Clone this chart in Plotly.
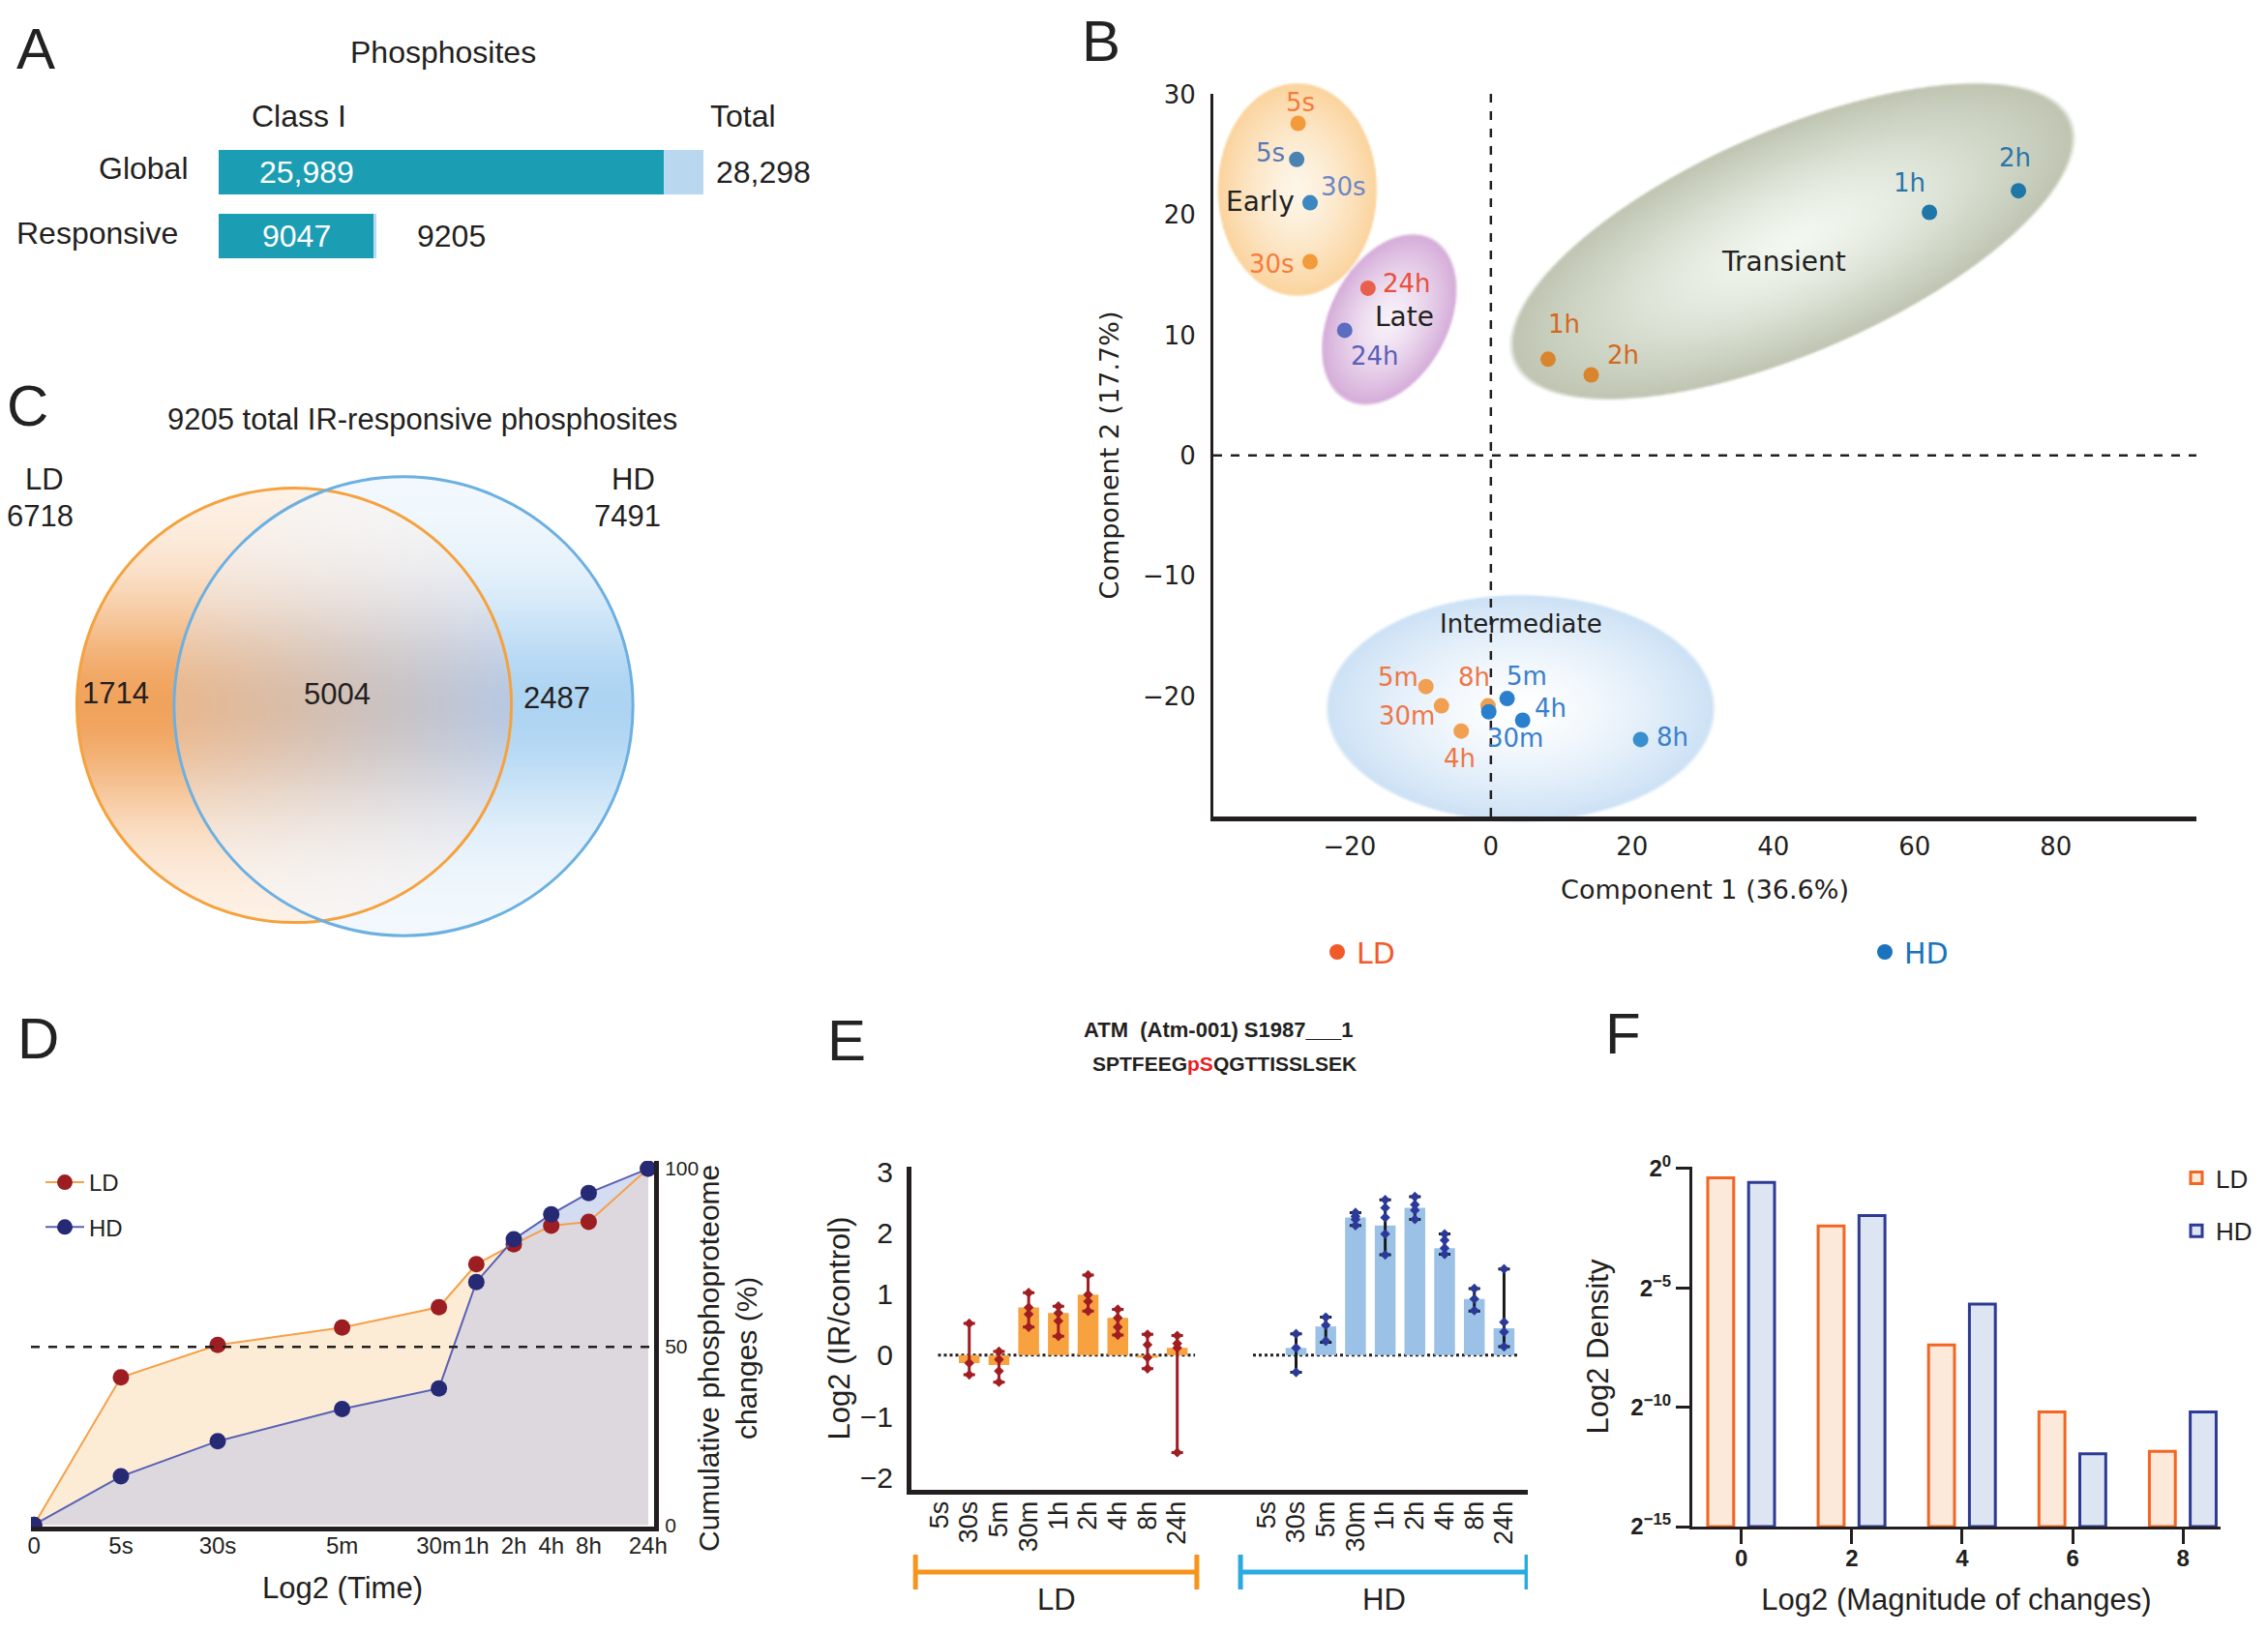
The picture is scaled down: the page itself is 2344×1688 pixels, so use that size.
import base64
import struct
import zlib

import numpy as np
import plotly.graph_objects as go

W, H = 2344, 1688
FONT = "Liberation Sans, Arial, Helvetica, sans-serif"
WIDE = "DejaVu Sans, Verdana, sans-serif"
INK = "#231f20"

# ======================= DATA =======================
# Panel A: phosphosite counts
A_ROWS = ["Global", "Responsive"]
A_CLASS1 = [25989, 9047]
A_TOTAL = [28298, 9205]
A_CLASS1_TEXT = ["25,989", "9047"]
A_TOTAL_TEXT = ["28,298", "9205"]

# Panel B: PCA scores
B_LABELS = ["5s", "30s", "5m", "30m", "1h", "2h", "4h", "8h", "24h"]
B_LD_PC1 = [-27.3, -25.6, -9.2, -7.0, 8.1, 14.2, -4.2, -0.4, -17.4]
B_LD_PC2 = [27.6, 16.1, -19.2, -20.8, 8.0, 6.7, -22.9, -20.8, 13.9]
B_HD_PC1 = [-27.5, -25.6, 2.3, -0.3, 62.1, 74.7, 4.5, 21.2, -20.7]
B_HD_PC2 = [24.6, 21.0, -20.2, -21.3, 20.2, 22.0, -22.0, -23.6, 10.4]
B_GROUPS = ["Early", "Late", "Transient", "Intermediate"]
B_GROUP_CENTER_PC1 = [-27.4, -14.4, 42.7, 4.2]
B_GROUP_CENTER_PC2 = [22.1, 11.3, 17.8, -21.0]

# Panel C: Venn counts
C_TOTAL = 9205
C_LD_TOTAL, C_HD_TOTAL = 6718, 7491
C_LD_ONLY, C_BOTH, C_HD_ONLY = 1714, 5004, 2487

# Panel D: cumulative changes (%)
D_TIME_LABELS = ["0", "5s", "30s", "5m", "30m", "1h", "2h", "4h", "8h", "24h"]
D_TIME_SECONDS = [1, 5, 30, 300, 1800, 3600, 7200, 14400, 28800, 86400]
D_LD = [0, 41.4, 50.5, 55.4, 61.1, 73.2, 78.8, 84.0, 85.1, 100]
D_HD = [0, 13.6, 23.5, 32.5, 38.3, 68.2, 80.2, 87.2, 93.2, 100]

# Panel E: ATM S1987 log2(IR/control)
E_TIMES = ["5s", "30s", "5m", "30m", "1h", "2h", "4h", "8h", "24h"]
E_LD_MID = [None, -0.13, -0.16, 0.78, 0.69, 0.99, 0.61, -0.04, 0.12]
E_LD_HIGH = [None, 0.52, 0.06, 1.02, 0.80, 1.31, 0.75, 0.34, 0.32]
E_LD_LOW = [None, -0.32, -0.44, 0.46, 0.31, 0.72, 0.33, -0.22, -1.59]
E_LD_REPS = [[], [0.52, -0.13, -0.32], [0.06, -0.07, -0.26, -0.44], [1.02, 0.78, 0.67, 0.46],
             [0.80, 0.69, 0.56, 0.31], [1.31, 0.99, 0.88, 0.72], [0.75, 0.61, 0.46, 0.33],
             [0.34, 0.17, -0.04, -0.22], [0.32, 0.19, 0.12, -1.59]]
E_HD_MID = [None, 0.12, 0.47, 2.25, 2.12, 2.41, 1.75, 0.92, 0.44]
E_HD_HIGH = [None, 0.35, 0.62, 2.33, 2.54, 2.59, 1.98, 1.09, 1.41]
E_HD_LOW = [None, -0.28, 0.21, 2.12, 1.64, 2.22, 1.65, 0.72, 0.14]
E_HD_REPS = [[], [0.35, 0.12, -0.28], [0.62, 0.49, 0.23], [2.33, 2.27, 2.22, 2.12],
             [2.54, 2.41, 2.25, 1.98, 1.64], [2.59, 2.46, 2.37, 2.22], [1.98, 1.88, 1.75, 1.65],
             [1.09, 0.92, 0.73], [1.41, 0.54, 0.38, 0.14]]

# Panel F: log2 density of change magnitudes
F_BINS = [0, 2, 4, 6, 8]
F_LD_LOG2 = [-0.39, -2.4, -7.39, -10.2, -11.85]
F_HD_LOG2 = [-0.58, -1.97, -5.68, -11.95, -10.2]
F_FLOOR = -15

# ======================= HELPERS / STYLE =======================
def PX(x):
    return x / W


def PY(y):
    return 1 - y / H


def dom_x(a, b):
    return [PX(a), PX(b)]


def dom_y(top, bottom):
    return [PY(bottom), PY(top)]


def png_uri(rgba):
    """Encode an HxWx4 uint8 array as a PNG data URI (filter 'Up')."""
    rgba = np.ascontiguousarray(np.clip(np.round(rgba), 0, 255), dtype=np.uint8)
    h, w, _ = rgba.shape
    prev = np.vstack([np.zeros((1, w, 4), np.uint8), rgba[:-1]])
    filt = ((rgba.astype(np.int16) - prev.astype(np.int16)) % 256).astype(np.uint8).reshape(h, w * 4)
    raw = np.hstack([np.full((h, 1), 2, np.uint8), filt]).tobytes()

    def chunk(tag, data):
        return struct.pack(">I", len(data)) + tag + data + struct.pack(">I", zlib.crc32(tag + data) & 0xFFFFFFFF)

    png = (b"\x89PNG\r\n\x1a\n" + chunk(b"IHDR", struct.pack(">IIBBBBB", w, h, 8, 6, 0, 0, 0)) +
           chunk(b"IDAT", zlib.compress(raw, 9)) + chunk(b"IEND", b""))
    return "data:image/png;base64," + base64.b64encode(png).decode()


fig = go.Figure()
shapes, ann, images = [], [], []


def text(x, y, s, size=28, color=INK, xanchor="center", yanchor="middle", xref="paper", yref="paper",
         xshift=0, yshift=0, bold=False, family=FONT, angle=0):
    ann.append(dict(x=x, y=y, xref=xref, yref=yref, text=("<b>%s</b>" % s) if bold else s,
                    showarrow=False, xanchor=xanchor, yanchor=yanchor, xshift=xshift, yshift=yshift,
                    textangle=angle, font=dict(family=family, size=size, color=color)))


# panel letters
for letter, (lx, ly) in {"A": (37, 50), "B": (1138, 43), "C": (28, 420), "D": (39, 1073),
                         "E": (875, 1075), "F": (1677, 1068)}.items():
    text(PX(lx), PY(ly), letter, size=60, color="#222")

# ======================= PANEL A =======================
TEAL, LIGHT = "#1b9db3", "#b9d8ef"
fig.add_trace(go.Bar(y=A_ROWS, x=A_CLASS1, base=0, orientation="h", marker=dict(color=TEAL, line=dict(width=0)),
                     width=0.7, xaxis="x", yaxis="y", showlegend=False, hoverinfo="skip"))
fig.add_trace(go.Bar(y=A_ROWS, x=[t - c for t, c in zip(A_TOTAL, A_CLASS1)], base=A_CLASS1, orientation="h",
                     marker=dict(color=LIGHT, line=dict(width=0)), width=0.7, xaxis="x", yaxis="y",
                     showlegend=False, hoverinfo="skip"))
text(PX(458), PY(54), "Phosphosites", size=32)
text(PX(309), PY(120), "Class I", size=32)
text(PX(768), PY(120), "Total", size=32)
text(0, A_ROWS[0], A_CLASS1_TEXT[0], xref="x", yref="y", xanchor="left", xshift=40, size=32, color="white")
text(A_CLASS1[1] / 2, A_ROWS[1], A_CLASS1_TEXT[1], xref="x", yref="y", size=32, color="white")
text(A_TOTAL[0], A_ROWS[0], A_TOTAL_TEXT[0], xref="x", yref="y", xanchor="left", xshift=11, size=32)
text(A_TOTAL[1], A_ROWS[1], A_TOTAL_TEXT[1], xref="x", yref="y", xanchor="left", xshift=40, size=32)
text(PX(197), PY(174), A_ROWS[0], xanchor="right", size=32)
text(PX(186), PY(241), A_ROWS[1], xanchor="right", size=32)

# ======================= PANEL B =======================
B_DOM_X, B_DOM_Y = (1254, 2270), (97, 844)
B_RX, B_RY = (-39.3, 99.9), (-30.0, 30.05)
kx = (B_DOM_X[1] - B_DOM_X[0]) / (B_RX[1] - B_RX[0])
ky = (B_DOM_Y[1] - B_DOM_Y[0]) / (B_RY[1] - B_RY[0])

# soft gradient ellipses (pixel semi-axes, rotation, edge / centre colours) as a background image
B_ELL = [dict(a=83, b=111, ang=0, outer=(251, 211, 156), inner=(253, 246, 232)),
         dict(a=96, b=62, ang=62, outer=(212, 170, 216), inner=(248, 241, 249)),
         dict(a=316, b=116, ang=23.5, outer=(190, 196, 176), inner=(242, 248, 240)),
         dict(a=202, b=118, ang=0, outer=(204, 225, 245), inner=(255, 255, 255))]
BI_X0, BI_X1, BI_Y0, BI_Y1, BI_S = 1240, 2300, 60, 880, 0.5
gx, gy = np.meshgrid(BI_X0 + (np.arange(int((BI_X1 - BI_X0) * BI_S)) + 0.5) / BI_S,
                     BI_Y0 + (np.arange(int((BI_Y1 - BI_Y0) * BI_S)) + 0.5) / BI_S)
b_rgb = np.full(gx.shape + (3,), 255.0)
b_a = np.zeros(gx.shape)
for cx, cy, e in zip(B_GROUP_CENTER_PC1, B_GROUP_CENTER_PC2, B_ELL):
    cxp = B_DOM_X[0] + (cx - B_RX[0]) * kx
    cyp = B_DOM_Y[1] - (cy - B_RY[0]) * ky
    th = np.radians(e["ang"])
    dx, dy = gx - cxp, -(gy - cyp)
    u = dx * np.cos(th) + dy * np.sin(th)
    w = -dx * np.sin(th) + dy * np.cos(th)
    rho = np.sqrt((u / e["a"]) ** 2 + (w / e["b"]) ** 2)
    cov = np.clip((1 - rho) * e["b"] * BI_S / 1.2, 0, 1)
    tcol = np.clip(rho, 0, 1) ** 1.4
    col = np.array(e["inner"]) + (np.array(e["outer"]) - np.array(e["inner"])) * tcol[..., None]
    na = cov + b_a * (1 - cov)
    safe = np.where(na > 0, na, 1)
    b_rgb = (col * cov[..., None] + b_rgb * (b_a * (1 - cov))[..., None]) / safe[..., None]
    b_rgb[na == 0] = 255
    b_a = na
images.append(dict(source=png_uri(np.dstack([b_rgb, 255 * b_a])), xref="paper", yref="paper",
                   x=PX(BI_X0), y=PY(BI_Y0), sizex=(BI_X1 - BI_X0) / W, sizey=(BI_Y1 - BI_Y0) / H,
                   xanchor="left", yanchor="top", sizing="stretch", layer="below"))
shapes.append(dict(type="line", xref="x2", yref="y2 domain", x0=0, x1=0, y0=0, y1=1, layer="below",
                   line=dict(color=INK, width=2.5, dash="dash")))
shapes.append(dict(type="line", xref="x2 domain", yref="y2", x0=0, x1=1, y0=0, y1=0, layer="below",
                   line=dict(color=INK, width=2.5, dash="dash")))

B_LD_COL = ["#f39a3b", "#f39a3b", "#f0a050", "#f0a050", "#d9852e", "#d9852e", "#f0a050", "#f0a050", "#e8604c"]
B_LD_TXT = ["#f47c3c", "#f47c3c", "#ee7746", "#ee7746", "#d2691e", "#d2691e", "#ee7746", "#ee7746", "#e8503a"]
B_HD_COL = ["#4a83b2", "#3b87c2", "#2a80cc", "#2a80cc", "#1f77a8", "#1f77a8", "#2a80cc", "#3a8fd0", "#5a6dc0"]
B_HD_TXT = ["#5a7ab8", "#6c88c4", "#3a7fcc", "#3a7fcc", "#2a76a8", "#2a76a8", "#3a7fcc", "#3a7fcc", "#5a5fb8"]
# (xanchor, xshift, yshift) per label
B_LD_OFF = [("center", 2, 21), ("right", -14, -2), ("right", -6, 10), ("right", -5, -10), ("center", 17, 36),
            ("center", 33, 20), ("center", -2, -28), ("center", -14, 30), ("left", 13, 5)]
B_HD_OFF = [("right", -10, 7), ("left", 9, 17), ("center", 20, 23), ("center", 27, -27), ("center", -21, 31),
            ("center", -4, 34), ("center", 29, 12), ("left", 14, 2), ("center", 31, -27)]

fig.add_trace(go.Scatter(x=B_LD_PC1, y=B_LD_PC2, mode="markers", xaxis="x2", yaxis="y2", showlegend=False,
                         marker=dict(color=B_LD_COL, size=16, line=dict(width=0)), hoverinfo="skip"))
fig.add_trace(go.Scatter(x=B_HD_PC1, y=B_HD_PC2, mode="markers", xaxis="x2", yaxis="y2", showlegend=False,
                         marker=dict(color=B_HD_COL, size=16, line=dict(width=0)), hoverinfo="skip"))
for xs_, ys_, cols, offs in [(B_LD_PC1, B_LD_PC2, B_LD_TXT, B_LD_OFF), (B_HD_PC1, B_HD_PC2, B_HD_TXT, B_HD_OFF)]:
    for lab, px_, py_, col, (xa, xsh, ysh) in zip(B_LABELS, xs_, ys_, cols, offs):
        text(px_, py_, lab, xref="x2", yref="y2", xanchor=xa, xshift=xsh, yshift=ysh, size=26, color=col,
             family=WIDE)
B_GROUP_TXT = [(-32.7, 21.1), (-12.2, 11.5), (41.5, 16.1), (4.2, -14.0)]
B_GROUP_SIZE = [28, 28, 28, 26]
for g, (gx_, gy_), sz in zip(B_GROUPS, B_GROUP_TXT, B_GROUP_SIZE):
    text(gx_, gy_, g, xref="x2", yref="y2", size=sz, color="#222", family=WIDE)
# legend entries for B (one legend each, so they can sit far apart)
fig.add_trace(go.Scatter(x=[None], y=[None], mode="markers", xaxis="x2", yaxis="y2", legend="legend3",
                         name="<span style='color:#f15a29'>LD</span>", marker=dict(color="#f15a29", size=20)))
fig.add_trace(go.Scatter(x=[None], y=[None], mode="markers", xaxis="x2", yaxis="y2", legend="legend4",
                         name="<span style='color:#1a73bd'>HD</span>", marker=dict(color="#1a73bd", size=20)))

# ======================= PANEL C (Venn) =======================
VENN_K = 2.74
C_LD_CENTER, C_HD_CENTER = (304, 729), (417, 730)
r_ld = VENN_K * np.sqrt(C_LD_TOTAL)
r_hd = VENN_K * np.sqrt(C_HD_TOTAL)

VI_X0, VI_X1, VI_Y0, VI_Y1 = 60, 680, 470, 1000
vx, vy = np.meshgrid(np.arange(VI_X0, VI_X1) + 0.5, np.arange(VI_Y0, VI_Y1) + 0.5)
d_ld = np.hypot(vx - C_LD_CENTER[0], vy - C_LD_CENTER[1])
d_hd = np.hypot(vx - C_HD_CENTER[0], vy - C_HD_CENTER[1])
in_ld, in_hd = d_ld <= r_ld, d_hd <= r_hd
vnorm = np.abs(vy - 0.5 * (C_LD_CENTER[1] + C_HD_CENTER[1])) / (0.5 * (r_ld + r_hd))
alpha = 0.12 + 0.74 * np.exp(-(vnorm / 0.5) ** 2)
lens_l, lens_r = C_HD_CENTER[0] - r_hd, C_LD_CENTER[0] + r_ld
tl = np.clip((vx - lens_l) / (lens_r - lens_l), 0, 1)[..., None]
LD_COL, HD_COL = np.array((238, 148, 66)), np.array((160, 205, 240))
near_ld = (d_ld / r_ld) < (d_hd / r_hd)
col = np.where(near_ld[..., None], LD_COL, HD_COL).astype(float)
ov = in_ld & in_hd
col[ov] = (np.array((230, 172, 122)) * (1 - tl) + np.array((172, 192, 222)) * tl)[ov]
v_rgb = 255 * (1 - alpha[..., None]) + col * alpha[..., None]
v_a = 255 * np.clip(np.maximum(r_ld - d_ld, r_hd - d_hd) + 0.5, 0, 1)
images.append(dict(source=png_uri(np.dstack([v_rgb, v_a])), xref="paper", yref="paper", x=PX(VI_X0),
                   y=PY(VI_Y0), sizex=(VI_X1 - VI_X0) / W, sizey=(VI_Y1 - VI_Y0) / H, xanchor="left",
                   yanchor="top", sizing="stretch", layer="below"))
for c, r, lc in [(C_LD_CENTER, r_ld, "#f5a23e"), (C_HD_CENTER, r_hd, "#6cb0e2")]:
    shapes.append(dict(type="circle", xref="paper", yref="paper", x0=PX(c[0] - r), x1=PX(c[0] + r),
                       y0=PY(c[1] + r), y1=PY(c[1] - r), line=dict(color=lc, width=3), fillcolor="rgba(0,0,0,0)"))
text(PX(436), PY(433), "%d total IR-responsive phosphosites" % C_TOTAL, size=31)
text(PX(46), PY(496), "LD", size=31)
text(PX(41), PY(533), str(C_LD_TOTAL), size=31)
text(PX(654), PY(496), "HD", size=31)
text(PX(648), PY(533), str(C_HD_TOTAL), size=31)
text(PX(119), PY(716), str(C_LD_ONLY), size=31)
text(PX(348), PY(718), str(C_BOTH), size=31)
text(PX(575), PY(721), str(C_HD_ONLY), size=31)

# ======================= PANEL D =======================
lx = np.log2(D_TIME_SECONDS)
ld = np.array(D_LD, float)
hd = np.array(D_HD, float)
mx, my = [lx[0]], [min(ld[0], hd[0])]
for i in range(1, len(lx)):
    d0, d1 = ld[i - 1] - hd[i - 1], ld[i] - hd[i]
    if d0 * d1 < 0:
        t = d0 / (d0 - d1)
        mx.append(lx[i - 1] + t * (lx[i] - lx[i - 1]))
        my.append(ld[i - 1] + t * (ld[i] - ld[i - 1]))
    mx.append(lx[i])
    my.append(min(ld[i], hd[i]))
min_sec = np.power(2.0, mx)

for xv, yv, fc in [(D_TIME_SECONDS, D_LD, "#fdecd5"), (D_TIME_SECONDS, D_HD, "#d3dcf0"), (min_sec, my, "#ddd8de")]:
    fig.add_trace(go.Scatter(x=list(xv), y=list(yv), mode="lines", fill="tozeroy", fillcolor=fc,
                             line=dict(width=0), xaxis="x4", yaxis="y4", showlegend=False, hoverinfo="skip"))
shapes.append(dict(type="line", xref="x4 domain", yref="y4", x0=0, x1=1, y0=50, y1=50,
                   line=dict(color=INK, width=2.5, dash="dash")))
fig.add_trace(go.Scatter(x=D_TIME_SECONDS, y=D_LD, mode="lines+markers", name="LD", xaxis="x4", yaxis="y4",
                         legend="legend", legendgroup="ld", line=dict(color="#f5a04a", width=2),
                         marker=dict(color="#9c1d22", size=17)))
fig.add_trace(go.Scatter(x=D_TIME_SECONDS, y=D_HD, mode="lines+markers", name="HD", xaxis="x4", yaxis="y4",
                         legend="legend", legendgroup="hd", line=dict(color="#5a60b5", width=2),
                         marker=dict(color="#262a74", size=17)))
text(PX(752), PY(1404), "Cumulative phosphoproteome<br>changes (%)", size=30, angle=-90)

# ======================= PANEL E =======================
E_LD_X = list(range(len(E_TIMES)))
E_HD_X = [11 + i for i in range(len(E_TIMES))]


def err(mid, hi, lo):
    up = [None if m is None else h - m for m, h in zip(mid, hi)]
    dn = [None if m is None else m - l for m, l in zip(mid, lo)]
    return up, dn


for xs_, mid, hi, lo, reps, bar_c, err_c, dot_c in [
        (E_LD_X, E_LD_MID, E_LD_HIGH, E_LD_LOW, E_LD_REPS, "#f7a23f", "#a01d22", "#a01d22"),
        (E_HD_X, E_HD_MID, E_HD_HIGH, E_HD_LOW, E_HD_REPS, "#9bc2e6", "#1a1a1a", "#2b3a9a")]:
    up, dn = err(mid, hi, lo)
    fig.add_trace(go.Bar(x=xs_, y=mid, width=0.7, marker=dict(color=bar_c, line=dict(width=0)),
                         error_y=dict(type="data", array=up, arrayminus=dn, color=err_c, thickness=3, width=6),
                         xaxis="x5", yaxis="y5", showlegend=False, hoverinfo="skip"))
    rx = [x for x, r in zip(xs_, reps) for _ in r]
    ry = [v for r in reps for v in r]
    fig.add_trace(go.Scatter(x=rx, y=ry, mode="markers", marker=dict(color=dot_c, size=8, symbol="diamond"),
                             xaxis="x5", yaxis="y5", showlegend=False, hoverinfo="skip"))
for x0, x1 in [(E_LD_X[0] - 0.05, E_LD_X[-1] + 0.6), (E_HD_X[0] - 0.45, E_HD_X[-1] + 0.5)]:
    shapes.append(dict(type="line", xref="x5", yref="y5", x0=x0, x1=x1, y0=0, y1=0, layer="below",
                       line=dict(color=INK, width=3, dash="dot")))
for x0, x1, lc, lab in [(E_LD_X[0] - 0.81, E_LD_X[-1] + 0.66, "#f7941d", "LD"),
                        (E_HD_X[0] - 0.87, E_HD_X[-1] + 0.77, "#29abe2", "HD")]:
    shapes.append(dict(type="line", xref="x5", yref="paper", x0=x0, x1=x1, y0=PY(1625), y1=PY(1625),
                       line=dict(color=lc, width=5)))
    for xe in (x0, x1):
        shapes.append(dict(type="line", xref="x5", yref="paper", x0=xe, x1=xe, y0=PY(1643), y1=PY(1607),
                           line=dict(color=lc, width=5)))
    text((x0 + x1) / 2, PY(1653), lab, xref="x5", size=31)
text(PX(1259), PY(1064), "ATM  (Atm-001) S1987___1", size=22, bold=True)
text(PX(1265), PY(1099), "SPTFEEG<span style='color:#ee1c25'>pS</span>QGTTISSLSEK", size=21, bold=True)

# ======================= PANEL F =======================
fig.add_trace(go.Bar(x=F_BINS, y=[v - F_FLOOR for v in F_LD_LOG2], base=F_FLOOR, width=0.47, offset=-0.61,
                     name="LD", legend="legend2", legendgroup="fld", xaxis="x6", yaxis="y6", hoverinfo="skip",
                     marker=dict(color="#fde9d9", line=dict(color="#f26522", width=3))))
fig.add_trace(go.Bar(x=F_BINS, y=[v - F_FLOOR for v in F_HD_LOG2], base=F_FLOOR, width=0.47, offset=0.13,
                     name="HD", legend="legend2", legendgroup="fhd", xaxis="x6", yaxis="y6", hoverinfo="skip",
                     marker=dict(color="#dde4f2", line=dict(color="#2e3a94", width=3))))

# ======================= LAYOUT =======================
hidden = dict(visible=False, showgrid=False, zeroline=False)


def tf(s, bold=False, family=FONT):
    return dict(family=family, size=s, color=INK, weight="bold" if bold else "normal")


def leg(x, y, size, family=FONT, **kw):
    d = dict(x=PX(x), y=PY(y), xanchor="left", yanchor="top", bgcolor="rgba(0,0,0,0)",
             font=dict(family=family, size=size, color=INK))
    d.update(kw)
    return d


fig.update_layout(
    width=W, height=H, autosize=False, margin=dict(l=0, r=0, t=0, b=0, autoexpand=False),
    paper_bgcolor="white", plot_bgcolor="rgba(0,0,0,0)",
    barmode="overlay", font=dict(family=FONT, color=INK), hovermode=False,
    xaxis=dict(domain=dom_x(226, 727), range=[0, A_TOTAL[0]], anchor="y", **hidden),
    yaxis=dict(domain=dom_y(145, 277), anchor="x", categoryorder="array", categoryarray=A_ROWS[::-1],
               **hidden),
    xaxis2=dict(domain=dom_x(*B_DOM_X), range=list(B_RX), anchor="y2", showline=True, linewidth=5,
                linecolor=INK, ticks="", ticklen=0, showgrid=False, zeroline=False,
                tickvals=[-20, 0, 20, 40, 60, 80], tickfont=tf(26, family=WIDE), ticklabelstandoff=4,
                tickangle=0, title=dict(text="Component 1 (36.6%)", font=tf(27, family=WIDE), standoff=22)),
    yaxis2=dict(domain=dom_y(*B_DOM_Y), range=list(B_RY), anchor="x2", showline=True, linewidth=3,
                linecolor=INK, ticks="", ticklen=0, showgrid=False, zeroline=False,
                tickvals=[-20, -10, 0, 10, 20, 30], tickfont=tf(26, family=WIDE), ticklabelstandoff=10,
                title=dict(text="Component 2 (17.7%)", font=tf(27, family=WIDE), standoff=17)),
    xaxis4=dict(domain=dom_x(32, 676), type="log", range=[-0.08 * np.log10(2), 16.56 * np.log10(2)],
                anchor="y4", showline=True, linewidth=5, linecolor=INK, ticks="", ticklen=0, showgrid=False,
                zeroline=False, tickvals=D_TIME_SECONDS, ticktext=D_TIME_LABELS, tickfont=tf(24),
                tickangle=0, ticklabelstandoff=-6, title=dict(text="Log2 (Time)", font=tf(31), standoff=22)),
    yaxis4=dict(domain=dom_y(1200, 1578), range=[-0.5, 102.2], anchor="x4", side="right", showline=True,
                linewidth=5, linecolor=INK, ticks="", ticklen=0, showgrid=False, zeroline=False,
                tickvals=[0, 50, 100], tickfont=tf(21), ticklabelstandoff=2),
    xaxis5=dict(domain=dom_x(942, 1579), range=[-0.945, 19.8], anchor="y5", showline=True, linewidth=5,
                linecolor=INK, ticks="", ticklen=0, showgrid=False, zeroline=False, tickvals=E_LD_X + E_HD_X,
                ticktext=E_TIMES + E_TIMES, tickangle=-90, tickfont=tf(27), ticklabelstandoff=-4),
    yaxis5=dict(domain=dom_y(1206, 1540), range=[-2.2, 3.08], anchor="x5", showline=True, linewidth=5,
                linecolor=INK, ticks="", ticklen=0, showgrid=False, zeroline=False,
                tickvals=[-2, -1, 0, 1, 2, 3], tickfont=tf(30), ticklabelstandoff=8,
                title=dict(text="Log2 (IR/control)", font=tf(31), standoff=2)),
    xaxis6=dict(domain=dom_x(1749, 2295), range=[-0.89, 8.68], anchor="y6", showline=True, linewidth=3,
                linecolor=INK, ticks="outside", ticklen=15, tickwidth=3, tickcolor=INK, showgrid=False,
                zeroline=False, tickvals=[0, 2, 4, 6, 8], tickfont=tf(24, True), tickangle=0,
                ticklabelstandoff=-6, title=dict(text="Log2 (Magnitude of changes)", font=tf(31), standoff=20)),
    yaxis6=dict(domain=dom_y(1206, 1578), range=[F_FLOOR, 0.08], anchor="x6", showline=True, linewidth=3,
                linecolor=INK, ticks="outside", ticklen=14, tickwidth=3, tickcolor=INK, showgrid=False,
                zeroline=False, tickvals=[-15, -10, -5, 0],
                ticktext=["<b>2<sup>−15</sup></b>", "<b>2<sup>−10</sup></b>", "<b>2<sup>−5</sup></b>",
                          "<b>2<sup>0</sup></b>"], tickfont=tf(24),
                title=dict(text="Log2 Density", font=tf(31), standoff=14)),
    legend=leg(42, 1200, 24, tracegroupgap=12, itemwidth=40),
    legend2=leg(2250, 1194, 26, tracegroupgap=18, itemwidth=30),
    legend3=leg(1362, 958, 30, family=WIDE, itemwidth=30),
    legend4=leg(1928, 958, 30, family=WIDE, itemwidth=30),
    shapes=shapes, annotations=ann, images=images,
)

fig.write_html("out.html", config={"displayModeBar": False},
               post_script="document.body.style.margin='0px';")
